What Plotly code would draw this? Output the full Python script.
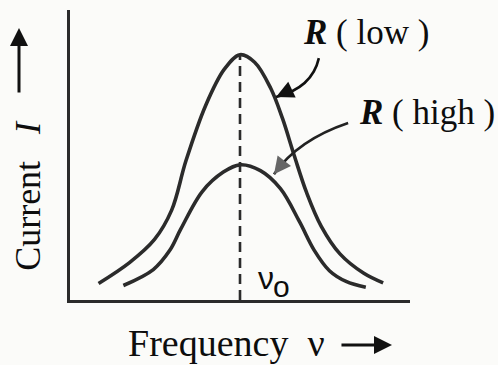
import plotly.graph_objects as go

# Resonance curves of a series LCR circuit: current vs. driving frequency
nu_low = [0.84, 1.75, 2.48, 2.99, 3.41, 3.99, 4.54, 5.0, 5.43, 5.90, 6.25, 6.59,
          6.96, 7.39, 7.94, 8.63, 9.21]
i_low = [0.57, 1.29, 2.08, 3.10, 4.80, 6.71, 7.96, 8.46, 8.20, 7.31, 6.26, 5.00,
         3.70, 2.54, 1.59, 0.93, 0.59]

nu_high = [1.57, 2.45, 2.94, 3.26, 3.89, 4.51, 5.0, 5.60, 6.19, 6.75, 7.18, 7.63,
           8.12, 8.70]
i_high = [0.50, 1.05, 1.72, 2.45, 3.74, 4.41, 4.66, 4.46, 3.84, 2.70, 1.72, 1.01,
          0.64, 0.44]

nu_0 = 5.0
i_peak = 8.46

INK = "#2b2b2b"
SERIF = "Liberation Serif"
SANS = "Liberation Sans"

fig = go.Figure()

for xs, ys in ((nu_low, i_low), (nu_high, i_high)):
    fig.add_trace(go.Scatter(x=xs, y=ys, mode="lines",
                             line=dict(color=INK, width=3.6, shape="spline", smoothing=1.0),
                             hoverinfo="skip"))
# resonance frequency marker
fig.add_trace(go.Scatter(x=[nu_0, nu_0], y=[0, i_peak], mode="lines",
                         line=dict(color=INK, width=2.6, dash="10px,6px"),
                         hoverinfo="skip"))


def label(x, y, text, size=34, family=SERIF, **kw):
    return dict(x=x, y=y, xref="paper", yref="paper", text=text, showarrow=False,
                font=dict(family=family, size=size, color="#0d0d0d"), **kw)


def arrow(x, y, ax, ay, xref="paper", yref="paper", width=3, size=1.2, color="#111"):
    return dict(x=x, y=y, xref=xref, yref=yref, ax=ax, ay=ay, text="", showarrow=True,
                arrowhead=2, arrowsize=size, arrowwidth=width, arrowcolor=color,
                standoff=0)


annotations = [
    # axis titles and direction arrows
    label(0.165, -0.148, "Frequency\u00a0\u00a0ν", size=38, xanchor="left", yanchor="middle"),
    label(-0.124, 0.362, "Current\u00a0\u00a0\u00a0<i>I</i>", size=36, textangle=-90,
          xanchor="center", yanchor="middle"),
    arrow(0.947, -0.155, -52, 0),
    arrow(-0.15, 0.938, 0, 66),
    # curve labels
    label(0.871, 0.921, "<b><i>R</i></b> ( low )", size=35, xanchor="center", yanchor="middle"),
    label(1.05, 0.648, "<b><i>R</i></b> ( high )", size=35, xanchor="center", yanchor="middle"),
    # pointer heads
    arrow(6.06, 7.0, 15, -7, xref="x", yref="y", width=2.6, size=1.35),
    arrow(6.0, 4.34, 10, -13, xref="x", yref="y", width=2.6, size=1.3, color="#666"),
    # resonance label
    dict(x=nu_0, y=0.75, xref="x", yref="y", text="ν", showarrow=False,
         xanchor="left", yanchor="middle", xshift=16,
         font=dict(family=SANS, size=32, color="#0d0d0d")),
    dict(x=nu_0, y=0.45, xref="x", yref="y", text="o", showarrow=False,
         xanchor="left", yanchor="middle", xshift=31,
         font=dict(family=SANS, size=30, color="#0d0d0d")),
]

shapes = [
    dict(type="path", xref="x", yref="y", path="M 7.32,8.34 Q 7.12,7.31 6.06,7.0",
         line=dict(color="#111", width=2.6)),
    dict(type="path", xref="x", yref="y", path="M 8.18,6.10 Q 6.71,5.52 6.0,4.34",
         line=dict(color="#222", width=2.6)),
]

fig.update_layout(
    width=498, height=365, autosize=False,
    margin=dict(l=70, r=88, t=10, b=65),
    paper_bgcolor="#fbfbf9", plot_bgcolor="#fbfbf9",
    showlegend=False,
    annotations=annotations, shapes=shapes,
    xaxis=dict(range=[0, 10], showgrid=False, zeroline=False, showticklabels=False,
               ticks="", showline=True, linecolor=INK, linewidth=3, fixedrange=True),
    yaxis=dict(range=[0, 10], showgrid=False, zeroline=False, showticklabels=False,
               ticks="", showline=True, linecolor=INK, linewidth=3, fixedrange=True),
)

fig.write_html("out.html", config={"displayModeBar": False})
